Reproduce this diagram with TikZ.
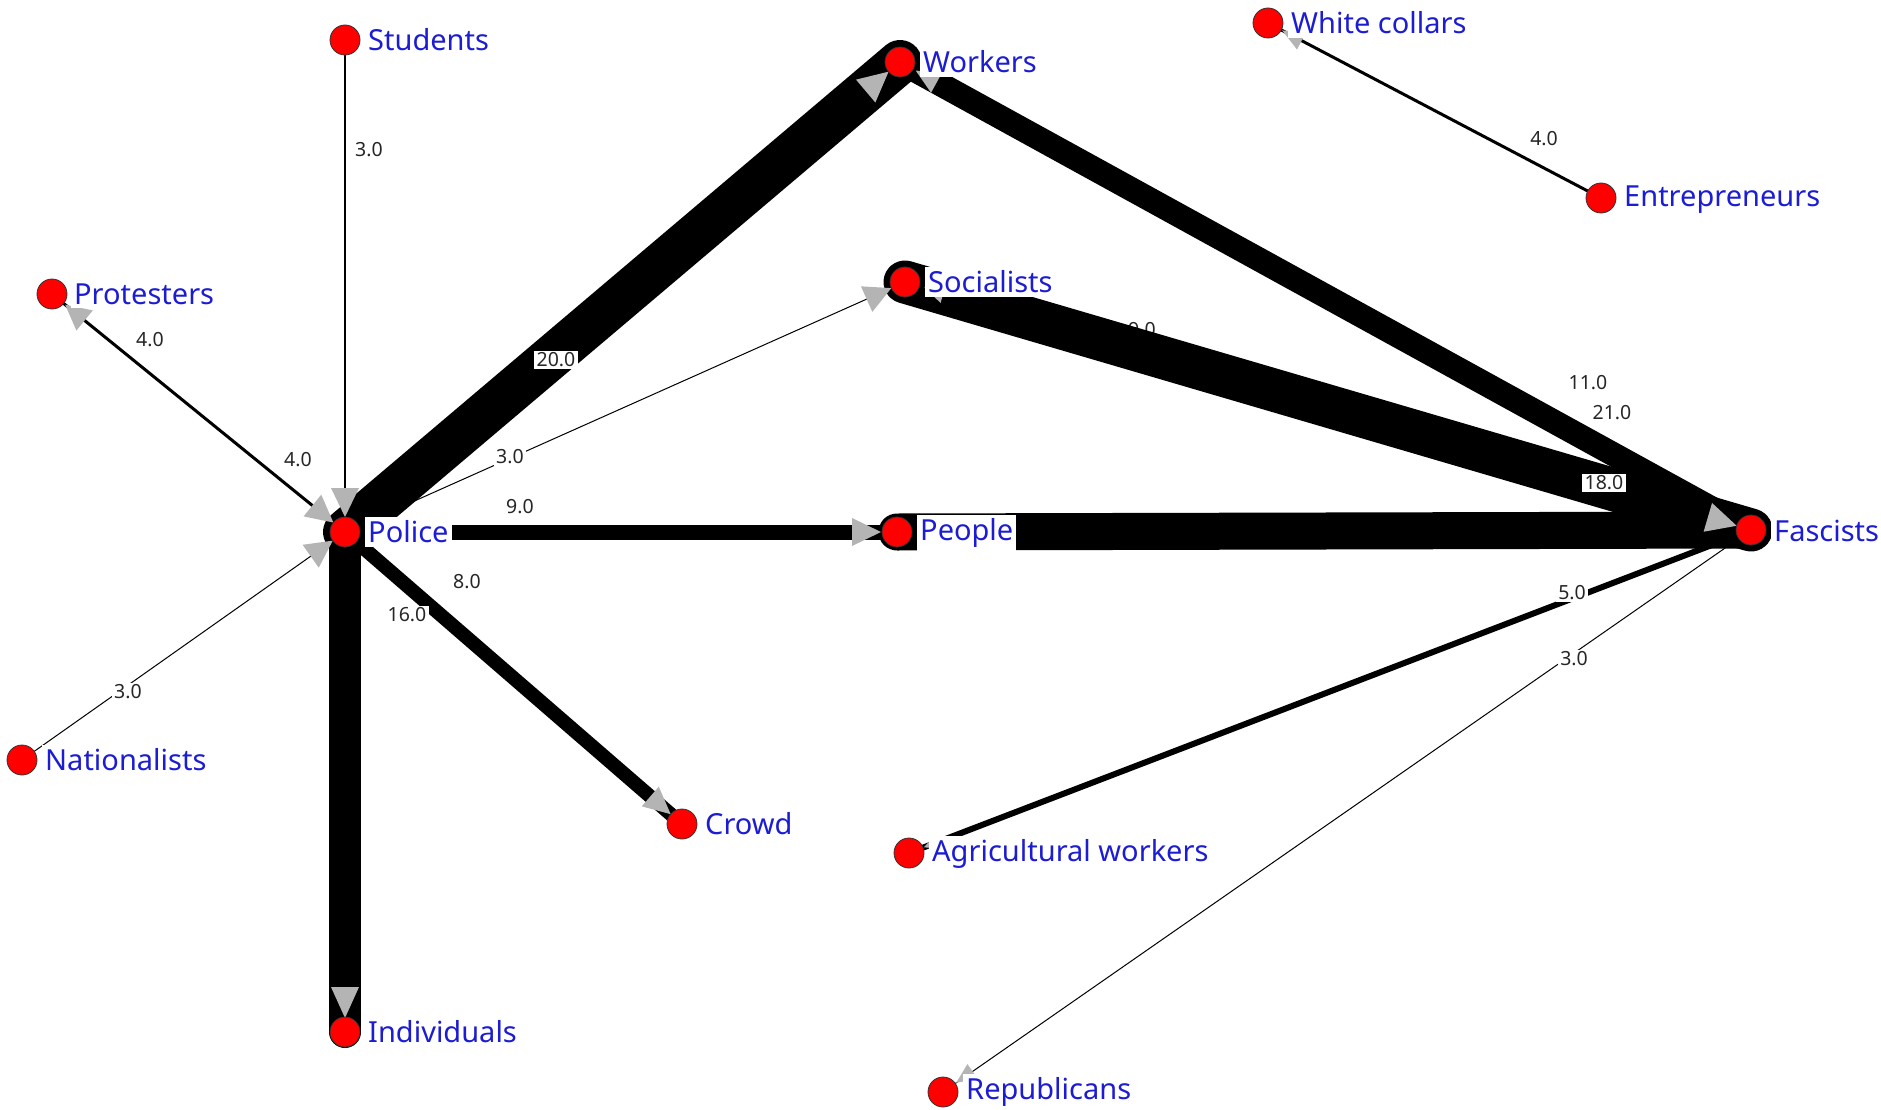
\documentclass[tikz,border=0pt]{standalone}
\usepackage{fontspec}
\setmainfont{Noto Sans}
\usetikzlibrary{calc}
\pgfdeclarelayer{bg}
\pgfdeclarelayer{hidden}
\pgfdeclarelayer{edges}
\pgfdeclarelayer{arrows}
\pgfdeclarelayer{elabels}
\pgfsetlayers{bg,hidden,edges,arrows,elabels,main}
\definecolor{nodeblue}{RGB}{28,28,210}
\definecolor{arrowgray}{RGB}{180,180,180}
\definecolor{nodered}{RGB}{255,0,0}
\newcommand{\arrhd}[5]{%
  \path ($(#2)!#4pt!(#1)$) coordinate (ahb);
  \fill[arrowgray] ($(#2)!#3pt!(#1)$) -- ($(ahb)!#5pt!90:(#2)$) -- ($(ahb)!#5pt!-90:(#2)$) -- cycle;}
\tikzset{
  actor/.style={circle, minimum size=30pt, inner sep=0pt, fill=nodered, draw=black!80, line width=0.8pt},
  alabel/.style={anchor=west, fill=white, text=nodeblue, inner xsep=3pt, inner ysep=4pt,
    font=\fontsize{29}{30}\selectfont},
  elab/.style={fill=white, text=black!85, inner xsep=2.5pt, inner ysep=2pt, font=\fontsize{19.5}{20}\selectfont},
  tie/.style={draw=black, line cap=round}
}
\begin{document}
\begin{tikzpicture}[x=1pt,y=-1pt]
\begin{pgfonlayer}{bg}
\fill[white] (0,0) rectangle (1881,1110);
\end{pgfonlayer}
\useasboundingbox (0,0) rectangle (1881,1110);
% actors
\node[actor] (stu) at (345,40) {};
\node[actor] (wor) at (900,62) {};
\node[actor] (whi) at (1268,23) {};
\node[actor] (ent) at (1601,198) {};
\node[actor] (pro) at (52,294) {};
\node[actor] (soc) at (905,282) {};
\node[actor] (pol) at (345,532) {};
\node[actor] (peo) at (897,532) {};
\node[actor] (fas) at (1751,530) {};
\node[actor] (nat) at (22,760) {};
\node[actor] (cro) at (682,824) {};
\node[actor] (agr) at (909,853) {};
\node[actor] (ind) at (345,1032) {};
\node[actor] (rep) at (943,1092) {};
% actor labels
\node[alabel] (stu-l) at ($(stu.center)+(20,0)$) {Students};
\node[alabel] (wor-l) at ($(wor.center)+(20,0)$) {Workers};
\node[alabel] (whi-l) at ($(whi.center)+(20,0)$) {White collars};
\node[alabel] (ent-l) at ($(ent.center)+(20,2)$) {Entrepreneurs};
\node[alabel] (pro-l) at ($(pro.center)+(19,0)$) {Protesters};
\node[alabel] (soc-l) at ($(soc.center)+(20,0)$) {Socialists};
\node[alabel] (pol-l) at ($(pol.center)+(20,0)$) {Police};
\node[alabel] (peo-l) at ($(peo.center)+(20,1)$) {People};
\node[alabel] (fas-l) at ($(fas.center)+(20,1)$) {Fascists};
\node[alabel] (nat-l) at ($(nat.center)+(20,0)$) {Nationalists};
\node[alabel] (cro-l) at ($(cro.center)+(20,0)$) {Crowd};
\node[alabel] (agr-l) at ($(agr.center)+(20,1)$) {Agricultural workers};
\node[alabel] (ind-l) at ($(ind.center)+(20,0)$) {Individuals};
\node[alabel] (rep-l) at ($(rep.center)+(20,0)$) {Republicans};

\begin{pgfonlayer}{hidden}
\node[elab] (e-socfas2) at (1142,330) {9.0};
\end{pgfonlayer}

\begin{pgfonlayer}{edges}
\draw[tie, line width=1.5pt] (stu.center) -- (pol.center);
\draw[tie, line width=3pt] (pro.center) -- (pol.center);
\draw[tie, line width=1pt] (nat.center) -- (pol.center);
\draw[tie, line width=44pt] (pol.center) -- (wor.center);
\draw[tie, line width=24pt] (fas.center) -- (wor.center);
\draw[tie, line width=1pt] (pol.center) -- (soc.center);
\draw[tie, line width=43pt] (soc.center) -- (fas.center);
\draw[tie, line width=15pt] (pol.center) -- (peo.center);
\draw[tie, line width=37pt] (peo.center) -- (fas.center);
\draw[tie, line width=14pt] (pol.center) -- (cro.center);
\draw[tie, line width=32pt] (pol.center) -- (ind.center);
\draw[tie, line width=6pt] (fas.center) -- (agr.center);
\draw[tie, line width=1pt] (fas.center) -- (rep.center);
\draw[tie, line width=3pt] (ent.center) -- (whi.center);
\end{pgfonlayer}

\begin{pgfonlayer}{arrows}
\arrhd{stu}{pol}{15}{44}{14}
\arrhd{pro}{pol}{15}{42}{14}
\arrhd{pol}{pro}{17}{42}{13}
\arrhd{nat}{pol}{15}{42}{14}
\arrhd{pol}{wor}{15}{45}{15}
\arrhd{fas}{wor}{18}{42}{12}
\arrhd{pol}{soc}{15}{42}{14}
\arrhd{fas}{soc}{20}{40}{10}
\arrhd{soc}{fas}{15}{45}{15}
\arrhd{pol}{peo}{16}{45}{14}
\arrhd{pol}{cro}{15}{42}{13}
\arrhd{pol}{ind}{14}{45}{14}
\arrhd{fas}{agr}{16}{28}{6}
\arrhd{fas}{rep}{16}{36}{9}
\arrhd{ent}{whi}{16}{38}{10}
\end{pgfonlayer}

\begin{pgfonlayer}{elabels}
\node[elab] (e-stupol) at (369,150) {3.0};
\node[elab] (e-propol1) at (150,340) {4.0};
\node[elab] (e-propol2) at (298,460) {4.0};
\node[elab] (e-natpol) at (128,692) {3.0};
\node[elab] (e-polwor) at (556,360) {20.0};
\node[elab] (e-polsoc) at (510,457) {3.0};
\node[elab] (e-polpeo) at (520,507) {9.0};
\node[elab] (e-polcro) at (467,582) {8.0};
\node[elab] (e-polind) at (407,615) {16.0};
\node[elab] (e-entwhi) at (1544,139) {4.0};
\node[elab] (e-faswor) at (1588,383) {11.0};
\node[elab] (e-worfas) at (1612,413) {21.0};
\node[elab] (e-socfas) at (1604,483) {18.0};
\node[elab] (e-fasagr) at (1572,593) {5.0};
\node[elab] (e-fasrep) at (1574,659) {3.0};
\end{pgfonlayer}
\end{tikzpicture}
\end{document}
